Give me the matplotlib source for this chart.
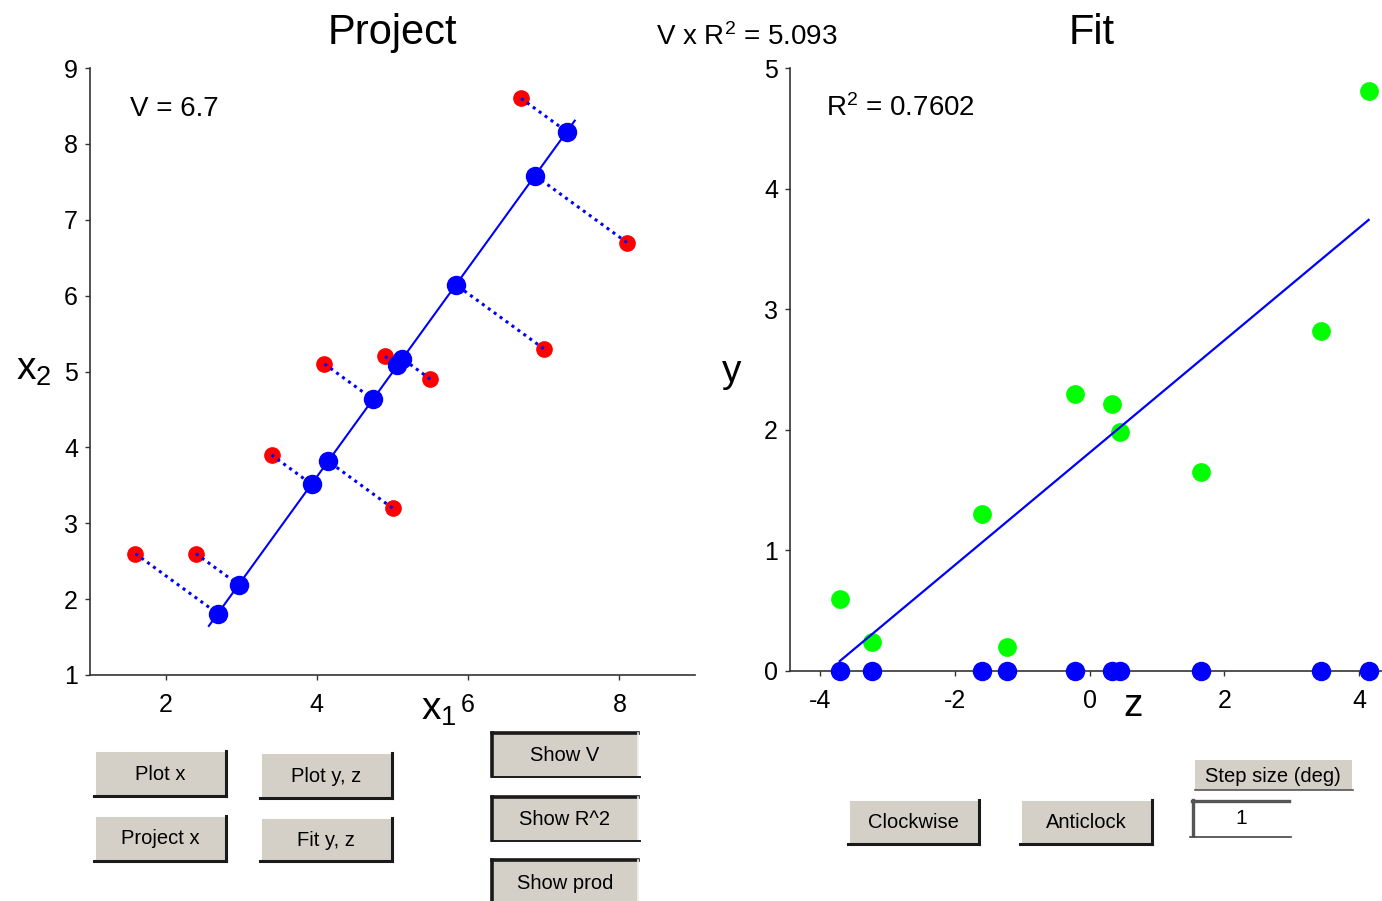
import numpy as np
import matplotlib.pyplot as plt
from matplotlib.patches import Rectangle

plt.rcParams['font.family'] = ['Liberation Sans', 'DejaVu Sans']
plt.rcParams['mathtext.default'] = 'regular'
plt.rcParams['axes.unicode_minus'] = False

# data points (x1, x2) and response y
x1 = [1.6, 2.4, 3.4, 4.1, 4.9, 5.5, 5.0, 7.0, 6.7, 8.1]
x2 = [2.6, 2.6, 3.9, 5.1, 5.2, 4.9, 3.2, 5.3, 8.6, 6.7]
y = [0.60, 0.24, 1.30, 2.30, 2.21, 1.98, 0.20, 1.65, 4.81, 2.82]

# current projection direction (degrees from x1 axis)
angle_deg = 54

v_text = 'V = 6.7'
r2_text = 'R$^2$ = 0.7602'
prod_text = 'V x R$^2$ = 5.093'

# projection onto the direction through the mean
X = np.column_stack([x1, x2])
m = X.mean(axis=0)
u = np.array([np.cos(np.radians(angle_deg)), np.sin(np.radians(angle_deg))])
z = (X - m) @ u
proj = m + np.outer(z, u)
zl = np.array([z.min() - 0.2, z.max() + 0.18])
line_pts = m + np.outer(zl, u)

b, a = np.polyfit(z, y, 1)
zf = np.array([z.min(), z.max()])

fig = plt.figure(figsize=(13.82, 9.01), dpi=100)
W, H = 1382, 901

# overlay in pixel coords for titles, labels and the gui controls
ov = fig.add_axes([0, 0, 1, 1], zorder=0)
ov.set_xlim(0, W)
ov.set_ylim(H, 0)
ov.axis('off')


def style(ax):
    for s in ['top', 'right']:
        ax.spines[s].set_visible(False)
    for s in ['left', 'bottom']:
        ax.spines[s].set_color('#333333')
        ax.spines[s].set_linewidth(1.2)
    ax.tick_params(direction='out', length=3.6, width=1, colors='#333333',
                   labelcolor='black', labelsize=18)
    ax.patch.set_alpha(0)


# left: Project
ax1 = fig.add_axes([90 / W, 1 - 675 / H, 605 / W, 607 / H], zorder=1)
style(ax1)
ax1.tick_params(axis='x', pad=9)
ax1.tick_params(axis='y', pad=5)
ax1.set_xlim(1, 9)
ax1.set_ylim(1, 9)
ax1.set_xticks([2, 4, 6, 8])
ax1.set_yticks(range(1, 10))
ax1.plot(x1, x2, 'o', color='red', ms=11, mec='red', zorder=2)
for i in range(len(x1)):
    ax1.plot([x1[i], proj[i, 0]], [x2[i], proj[i, 1]], color='blue', lw=2.2,
             linestyle=(0, (1, 1.4)), zorder=3)
ax1.plot(line_pts[:, 0], line_pts[:, 1], color='blue', lw=1.5, zorder=3)
ax1.plot(proj[:, 0], proj[:, 1], 'o', color='blue', ms=13, zorder=4)

# right: Fit
ax2 = fig.add_axes([790 / W, 1 - 671 / H, 592 / W, 603 / H], zorder=1)
style(ax2)
ax2.tick_params(axis='x', pad=9)
ax2.tick_params(axis='y', pad=5)
ax2.set_xlim(-4.45, 4.34)
ax2.set_ylim(0, 5)
ax2.set_xticks([-4, -2, 0, 2, 4])
ax2.set_yticks(range(0, 6))
ax2.plot(z, y, 'o', color='#00ff00', ms=12.5, zorder=2)
ax2.plot(zf, a + b * zf, color='blue', lw=1.6, zorder=3)
ax2.plot(z, np.zeros_like(z), 'o', color='blue', ms=13, zorder=4, clip_on=False)

# titles and labels
ov.text(392, 44, 'Project', fontsize=30, ha='center', va='baseline')
ov.text(1092, 44, 'Fit', fontsize=30, ha='center', va='baseline')
ov.text(747, 45, prod_text, fontsize=20, ha='center', va='baseline')
ov.text(130, 116, v_text, fontsize=20, ha='left', va='baseline')
ov.text(826, 116, r2_text, fontsize=20, ha='left', va='baseline')
ov.text(16, 380, 'x$_2$', fontsize=28, ha='left', va='baseline')
ov.text(722, 382, 'y', fontsize=28, ha='left', va='baseline')
ov.text(421, 720, 'x$_1$', fontsize=28, ha='left', va='baseline')
ov.text(1123, 716, 'z', fontsize=28, ha='left', va='baseline')

face = '#d4d0c8'
dark = '#1a1a1a'


def raised(x0, y0, x1_, y1_, label):
    ov.add_patch(Rectangle((x0, y0), x1_ - x0, y1_ - y0, facecolor=face, edgecolor='none'))
    ov.plot([x0, x1_], [y0, y0], color='white', lw=1.4)
    ov.plot([x0, x0], [y0, y1_], color='white', lw=1.4)
    ov.plot([x0 - 1, x1_ + 1], [y1_ + 1, y1_ + 1], color=dark, lw=2.2)
    ov.plot([x1_ + 1, x1_ + 1], [y0, y1_ + 1], color=dark, lw=2.2)
    ov.text((x0 + x1_) / 2, (y0 + y1_) / 2 + 1, label, fontsize=14.5,
            ha='center', va='center')


def pressed(x0, y0, x1_, y1_, label):
    ov.add_patch(Rectangle((x0, y0), x1_ - x0, y1_ - y0, facecolor=face, edgecolor='none'))
    ov.plot([x0, x1_], [y0, y0], color=dark, lw=2.6)
    ov.plot([x0, x0], [y0, y1_], color=dark, lw=2.6)
    ov.plot([x1_, x1_], [y0, y1_], color='#f0f0f0', lw=1.2)
    ov.plot([x0, x1_ + 2], [y1_ + 1, y1_ + 1], color=dark, lw=1.4)
    ov.text((x0 + x1_) / 2, (y0 + y1_) / 2 + 1, label, fontsize=14.5,
            ha='center', va='center')


raised(95, 751, 225, 795, 'Plot x')
raised(261, 753, 391, 797, 'Plot y, z')
raised(95, 816, 225, 860, 'Project x')
raised(261, 818, 391, 860, 'Fit y, z')
pressed(492, 733, 638, 776, 'Show V')
pressed(492, 797, 638, 840, 'Show R^2')
pressed(492, 860, 638, 905, 'Show prod')
raised(849, 800, 978, 843, 'Clockwise')
raised(1021, 800, 1151, 843, 'Anticlock')

# step size label and edit box
ov.add_patch(Rectangle((1195, 760), 157, 30, facecolor=face, edgecolor='none'))
ov.plot([1195, 1353], [790, 790], color='#555555', lw=1.2)
ov.text(1273, 776, 'Step size (deg)', fontsize=14.5, ha='center', va='center')
ov.add_patch(Rectangle((1192, 800), 97, 35, facecolor='white', edgecolor='none'))
ov.plot([1192, 1289], [801, 801], color='#555555', lw=2.4)
ov.plot([1193, 1193], [800, 835], color='#555555', lw=2.4)
ov.plot([1190, 1291], [837, 837], color='#444444', lw=1.2)
ov.text(1241, 818, '1', fontsize=15, ha='center', va='center')

fig.savefig('out.png', dpi=100)
